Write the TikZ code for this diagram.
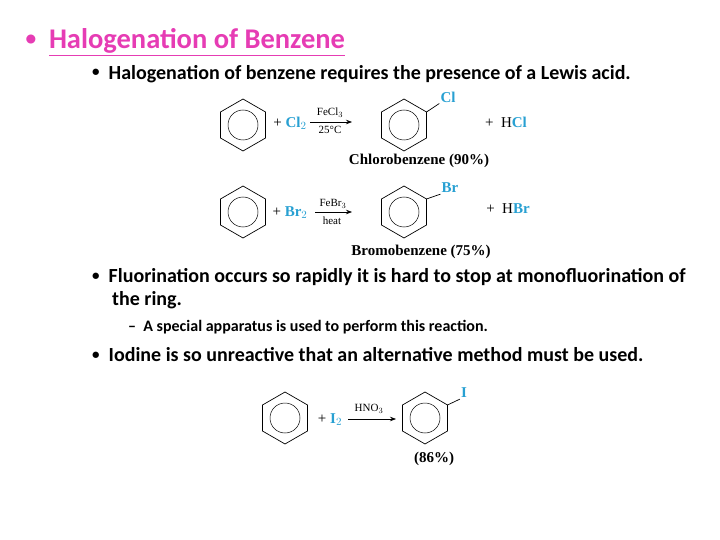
\documentclass[tikz,border=0pt]{standalone}
\usepackage{fontspec}
\setmainfont{Carlito}
\newfontfamily\chem{Liberation Serif}
\usetikzlibrary{positioning,arrows.meta}
\definecolor{halo}{RGB}{40,160,210}
\definecolor{titlepink}{RGB}{230,60,180}
\newcommand{\bul}{\raisebox{0.12em}{\scalebox{0.75}{\textbullet}}\hspace{0.45em}}
\tikzset{
  ring/.pic={\draw[line width=0.7pt] (90:26)--(30:26)--(-30:26)--(-90:26)--(-150:26)--(150:26)--cycle;
             \draw[line width=0.5pt] (0,0) circle (15);},
  chemtxt/.style={font=\chem\fontsize{15}{17}\selectfont, inner sep=1pt},
  reag/.style={font=\chem\fontsize{11}{12}\selectfont, inner sep=1pt},
  bullet/.style={font=\bfseries\fontsize{20}{24}\selectfont, anchor=west, align=left, inner sep=0pt},
  rxn/.style={-{Stealth[length=6pt]}, line width=0.7pt}
}
\begin{document}
\begin{tikzpicture}[x=1pt,y=-1pt]
  \useasboundingbox (0,0) rectangle (720,540);

  \node (title) at (22,42) [anchor=west, font=\bfseries\fontsize{28.5}{30}\selectfont] {\textcolor{titlepink}{\bul\underline{Halogenation of Benzene}}};
  \node (b1) at (92,74) [bullet] {\bul Halogenation of benzene requires the presence of a Lewis acid.};

  % chlorination
  \pic at (243,125) {ring};
  \node (cl2) at (290,123) [chemtxt] {+ \textbf{\textcolor{halo}{Cl$_2$}}};
  \coordinate (a1s) at (310,122);
  \coordinate (a1e) at (352,122);
  \draw[rxn] (a1s) -- (a1e);
  \node (fecl) at (330,113) [reag] {FeCl$_3$};
  \node (t25) at (330,130) [reag] {25\textdegree C};
  \pic at (404,125) {ring};
  \coordinate (clv) at (426.5,112);
  \node (cl) at (448,97) [chemtxt] {\textbf{\textcolor{halo}{Cl}}};
  \draw[line width=0.7pt] (clv) -- (cl.south west);
  \node (hcl) at (506,122) [chemtxt] {+ \ H\textbf{\textcolor{halo}{Cl}}};
  \node (clb) at (419,161) [chemtxt] {\textbf{Chlorobenzene (90\%)}};

  % bromination
  \pic at (243,212) {ring};
  \node (br2) at (290,213) [chemtxt] {+ \textbf{\textcolor{halo}{Br$_2$}}};
  \coordinate (a2s) at (315,212);
  \coordinate (a2e) at (352,212);
  \draw[rxn] (a2s) -- (a2e);
  \node (febr) at (333,204) [reag] {FeBr$_3$};
  \node (heat) at (332,221) [reag] {heat};
  \pic at (404,212) {ring};
  \coordinate (brv) at (426.5,199);
  \node (br) at (450,188) [chemtxt] {\textbf{\textcolor{halo}{Br}}};
  \draw[line width=0.7pt] (brv) -- (br.south west);
  \node (hbr) at (508,209) [chemtxt] {+ \ H\textbf{\textcolor{halo}{Br}}};
  \node (brb) at (421,252) [chemtxt] {\textbf{Bromobenzene (75\%)}};

  \node (b2) at (92,289) [bullet] {\bul Fluorination occurs so rapidly it is hard to stop at monofluorination of\\[-1pt]\hspace{20pt}the ring.};
  \node (s1) at (128,327) [bullet, font=\bfseries\fontsize{16}{18}\selectfont] {--\ \ A special apparatus is used to perform this reaction.};
  \node (b3) at (92,355) [bullet] {\bul Iodine is so unreactive that an alternative method must be used.};

  % iodination
  \pic at (285,418) {ring};
  \node (i2) at (330,420) [chemtxt] {+ \textbf{\textcolor{halo}{I$_2$}}};
  \coordinate (a3s) at (348,419);
  \coordinate (a3e) at (396,419);
  \draw[rxn] (a3s) -- (a3e);
  \node (hno) at (369,409) [reag] {HNO$_3$};
  \pic at (425,418) {ring};
  \coordinate (iv) at (447.5,405);
  \node (io) at (464,393) [chemtxt] {\textbf{\textcolor{halo}{I}}};
  \draw[line width=0.7pt] (iv) -- (io.south west);
  \node (yi) at (434,459) [chemtxt] {\textbf{(86\%)}};
\end{tikzpicture}
\end{document}
